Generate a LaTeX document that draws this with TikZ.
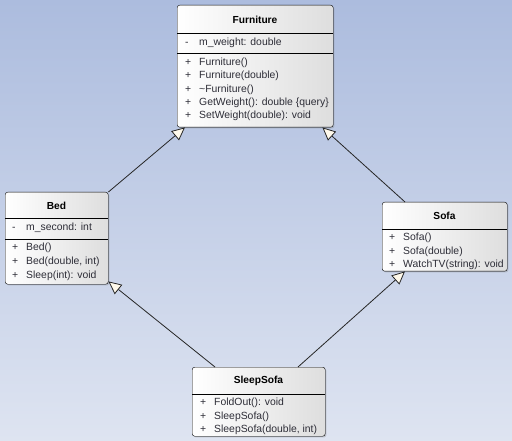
\documentclass[tikz,border=0pt]{standalone}
\usepackage{fontspec}
\setmainfont{Liberation Sans}
\usetikzlibrary{arrows.meta,calc,shadows}
\definecolor{bgtop}{RGB}{172,188,222}
\definecolor{bgbot}{RGB}{222,228,241}
\definecolor{headfill}{RGB}{255,249,235}
\definecolor{txt}{RGB}{45,45,55}
\newcommand{\vis}[1]{\makebox[14pt][l]{#1}}

\begin{document}
\begin{tikzpicture}[x=1pt,y=-1pt,
    classbox/.style={draw, rounded corners=2.5pt, left color=white, right color=black!13,
      anchor=north west, inner sep=0pt, drop shadow={shadow xshift=1.2pt, shadow yshift=-1.2pt, opacity=0.35}},
    title/.style={font=\bfseries\fontsize{10.2}{11}\selectfont, inner sep=0pt},
    member/.style={anchor=west, inner sep=0pt, text=txt, font=\fontsize{10.4}{11}\selectfont},
    inherit/.style={draw=black!85, line width=0.8pt, -{Triangle[length=13pt,width=12pt,fill=headfill]}}]
  \shade[top color=bgtop, bottom color=bgbot] (0,0) rectangle (512,441);

  \node[classbox, minimum width=156pt, minimum height=122pt] (furniture) at (177,5) {};
    \draw (177,33) -- (333,33) (177,53) -- (333,53);
    \node[title] (f-t) at (255,20) {Furniture};
    \node[member] (f-a1) at (185,43) {\vis{-}m\_weight: double};
    \foreach \txt [count=\i] in {Furniture(), Furniture(double), \textasciitilde Furniture(),
        {GetWeight(): double \{query\}}, SetWeight(double): void}
      \node[member] (f-m\i) at (185,49.7+13.3*\i) {\vis{+}\txt};

  \node[classbox, minimum width=103pt, minimum height=92pt] (bed) at (5,192) {};
    \draw (5,218) -- (108,218) (5,239) -- (108,239);
    \node[title] (b-t) at (56.5,206) {Bed};
    \node[member] (b-a1) at (12,228) {\vis{-}m\_second: int};
    \foreach \txt [count=\i] in {Bed(), {Bed(double, int)}, Sleep(int): void}
      \node[member] (b-m\i) at (12,234+14*\i) {\vis{+}\txt};

  \node[classbox, minimum width=125pt, minimum height=69pt] (sofa) at (382,202) {};
    \draw (382,229) -- (507,229);
    \node[title] (s-t) at (444.5,216) {Sofa};
    \foreach \txt [count=\i] in {Sofa(), Sofa(double), WatchTV(string): void}
      \node[member] (s-m\i) at (389,224.5+13.5*\i) {\vis{+}\txt};

  \node[classbox, minimum width=133pt, minimum height=69pt] (sleepsofa) at (192,367) {};
    \draw (192,394) -- (325,394);
    \node[title] (ss-t) at (258.5,381) {SleepSofa};
    \foreach \txt [count=\i] in {FoldOut(): void, SleepSofa(), {SleepSofa(double, int)}}
      \node[member] (ss-m\i) at (200,389.5+13.5*\i) {\vis{+}\txt};

  \draw[inherit] (bed.north east) -- ($(furniture.south west)+(8,0)$);
  \draw[inherit] ($(sofa.north west)+(23,0)$) -- ($(furniture.south east)+(-11,0)$);
  \draw[inherit] ($(sleepsofa.north west)+(23,0)$) -- ($(bed.south east)+(0,-3)$);
  \draw[inherit] ($(sleepsofa.north west)+(106,0)$) -- ($(sofa.south west)+(23,0)$);
\end{tikzpicture}
\end{document}
